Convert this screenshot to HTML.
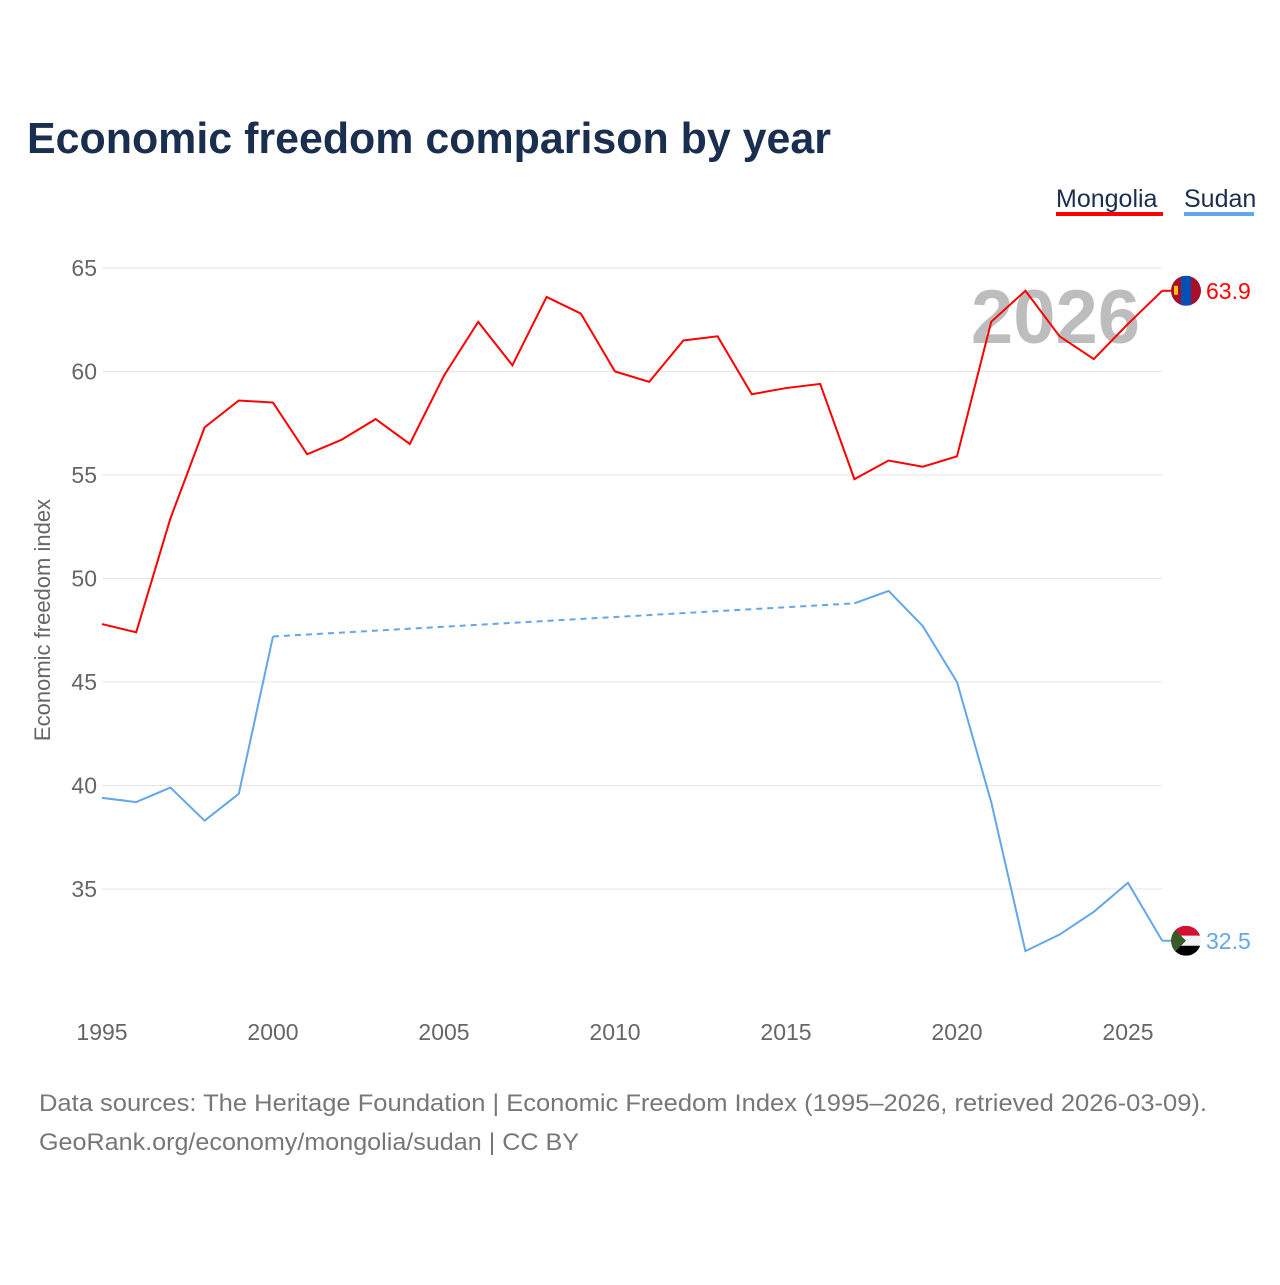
<!DOCTYPE html>
<html><head><meta charset="utf-8"><style>
body{margin:0;background:#fff;font-family:"Liberation Sans",sans-serif}
svg text{font-family:"Liberation Sans",sans-serif}
</style></head><body>
<svg id="chart" width="1280" height="1280" viewBox="0 0 1280 1280" xmlns="http://www.w3.org/2000/svg">
<text x="27" y="153" font-size="44" font-weight="bold" fill="#1a2e4f" textLength="804" lengthAdjust="spacingAndGlyphs">Economic freedom comparison by year</text>
<g>
<text x="1056" y="207" font-size="25" fill="#1a2e4f">Mongolia</text>
<rect x="1056" y="212" width="107" height="4" fill="#ff0000"/>
<text x="1184" y="207" font-size="25" fill="#1a2e4f">Sudan</text>
<rect x="1184" y="212" width="70" height="4" fill="#63a6ea"/>
</g>
<text x="1140" y="343" font-size="76" font-weight="bold" fill="#bdbdbd" text-anchor="end">2026</text>
<g id="grid"></g><g id="series"></g>
<text transform="translate(50,620) rotate(-90)" font-size="22" fill="#666" text-anchor="middle">Economic freedom index</text>
<text x="39" y="1111" font-size="24" fill="#777" textLength="1168" lengthAdjust="spacingAndGlyphs">Data sources: The Heritage Foundation | Economic Freedom Index (1995–2026, retrieved 2026-03-09).</text>
<text x="39" y="1150" font-size="24" fill="#777" textLength="540" lengthAdjust="spacingAndGlyphs">GeoRank.org/economy/mongolia/sudan | CC BY</text>
</svg>
<script>
const years=[1995,1996,1997,1998,1999,2000,2001,2002,2003,2004,2005,2006,2007,2008,2009,2010,2011,2012,2013,2014,2015,2016,2017,2018,2019,2020,2021,2022,2023,2024,2025,2026];
const mongolia=[47.8,47.4,52.9,57.3,58.6,58.5,56.0,56.7,57.7,56.5,59.8,62.4,60.3,63.6,62.8,60.0,59.5,61.5,61.7,58.9,59.2,59.4,54.8,55.7,55.4,55.9,62.4,63.9,61.7,60.6,62.3,63.9];
const sudan=[39.4,39.2,39.9,38.3,39.6,47.2,null,null,null,null,null,null,null,null,null,null,null,null,null,null,null,null,48.8,49.4,47.7,45.0,39.2,32.0,32.8,33.9,35.3,32.5];
const yTicks=[35,40,45,50,55,60,65];
const xTicks=[1995,2000,2005,2010,2015,2020,2025];
const NS="http://www.w3.org/2000/svg";
const X=y=>102+(y-1995)*(1026/30);
const Y=v=>268+(65-v)*(621/30);
function mk(t,a,p){const e=document.createElementNS(NS,t);for(const k in a)e.setAttribute(k,a[k]);p.appendChild(e);return e;}
const g=document.getElementById('grid'),s=document.getElementById('series');
yTicks.forEach(v=>{
 const l=mk('line',{x1:102,x2:1162,y1:Y(v),y2:Y(v),stroke:'#e6e6e6','stroke-width':1},g);
 
 
 const t=mk('text',{x:97,y:Y(v)+8,'font-size':23,fill:'#666','text-anchor':'end'},g);
 t.textContent=v;
 
 
});
xTicks.forEach(v=>{
 const t=mk('text',{x:X(v),y:1040,'font-size':23,fill:'#666','text-anchor':'middle'},g);
 t.textContent=v;
 
 
});
function draw(vals,color,name){
 let seg=[],prev=null;
 vals.forEach((v,i)=>{
  if(v==null)return;
  const pt=[X(years[i]),Y(v)];
  if(prev&&i-prev.i>1){
   if(seg.length>1){const p=mk('polyline',{points:seg.join(' '),fill:'none',stroke:color,'stroke-width':2},s);}
   const d=mk('line',{x1:prev.pt[0],y1:prev.pt[1],x2:pt[0],y2:pt[1],stroke:color,'stroke-width':2,'stroke-dasharray':'6,5'},s);
   
   
   seg=[];
  }
  seg.push(pt.join(','));prev={i,pt};
 });
 const p=mk('polyline',{points:seg.join(' '),fill:'none',stroke:color,'stroke-width':2},s);
 
 
 const last=vals[vals.length-1],ly=Y(last);
 mk('line',{x1:X(2026),y1:ly,x2:1178,y2:ly,stroke:color,'stroke-width':2},s);
 const t=mk('text',{x:1206,y:ly+8,'font-size':23,fill:color},s);
 t.textContent=last.toFixed(1);
 
 
 return ly;
}
const my=draw(mongolia,'#ff0000','mongolia');
const sy=draw(sudan,'#63a6ea','sudan');
const f1=mk('g',{},s);


const cp1=mk('clipPath',{id:'c1'},f1);mk('circle',{cx:1186,cy:my,r:15},cp1);
const fg1=mk('g',{'clip-path':'url(#c1)'},f1);
mk('rect',{x:1171,y:my-15,width:30,height:30,fill:'#a50f2a'},fg1);
mk('rect',{x:1181,y:my-15,width:10,height:30,fill:'#0050b5'},fg1);
mk('rect',{x:1174,y:my-5,width:4,height:9,fill:'#f5c400'},fg1);
const f2=mk('g',{},s);


const cp=mk('clipPath',{id:'c2'},f2);mk('circle',{cx:1186,cy:sy,r:15},cp);
const fg2=mk('g',{'clip-path':'url(#c2)'},f2);
mk('rect',{x:1171,y:sy-15,width:30,height:10,fill:'#d21034'},fg2);
mk('rect',{x:1171,y:sy-5,width:30,height:10,fill:'#f2f2f2'},fg2);
mk('rect',{x:1171,y:sy+5,width:30,height:10,fill:'#000'},fg2);
mk('polygon',{points:`1171,${sy-15} 1186,${sy} 1171,${sy+15}`,fill:'#3a5a28'},fg2);
</script>
</body></html>
